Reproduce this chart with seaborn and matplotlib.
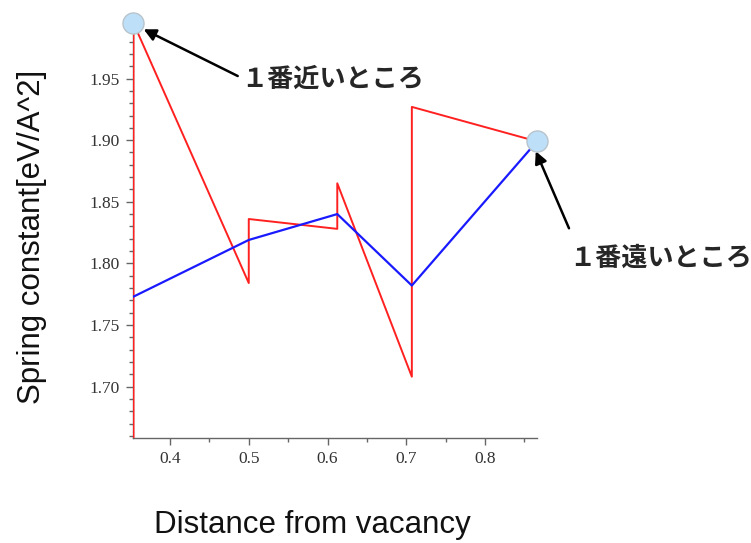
import numpy as np
import pandas as pd
import matplotlib
matplotlib.use("Agg")
import matplotlib.pyplot as plt
import seaborn as sns
from matplotlib.ticker import MultipleLocator

# Distances from the vacancy (nearest to farthest neighbour shells)
distance = [0.3536, 0.5, 0.6124, 0.7071, 0.866]

# Averaged spring constant for each shell
avg_spring = [1.773, 1.819, 1.840, 1.782, 1.899]

# Per-bond spring constants, drawn as a stepped path (two values at each shell)
path_distance = [0.3536, 0.3536, 0.5, 0.5, 0.6124, 0.6124, 0.7071, 0.7071, 0.866]
path_spring = [1.60, 1.995, 1.784, 1.836, 1.828, 1.865, 1.708, 1.927, 1.899]

# Highlighted extremes
mark_distance = [0.3536, 0.866]
mark_spring = [1.995, 1.899]

label_near = "１番近いところ"
label_far = "１番遠いところ"

x_ticks = [0.4, 0.5, 0.6, 0.7, 0.8]
y_ticks = [1.70, 1.75, 1.80, 1.85, 1.90, 1.95]

sns.set_theme(style="white")
plt.rcParams["font.family"] = ["Noto Sans CJK JP", "DejaVu Sans"]

fig = plt.figure(figsize=(7.51, 5.43), dpi=100)
ax = fig.add_axes([0.1767, 0.1928, 0.5383, 0.7669])

path_df = pd.DataFrame({"d": path_distance, "k": path_spring})
avg_df = pd.DataFrame({"d": distance, "k": avg_spring})

sns.lineplot(data=path_df, x="d", y="k", sort=False, estimator=None,
             color="#ff2020", linewidth=1.4, ax=ax, zorder=3)
sns.lineplot(data=avg_df, x="d", y="k", sort=False, estimator=None,
             color="#1a1aff", linewidth=1.6, ax=ax, zorder=3)

ax.scatter(mark_distance, mark_spring, s=230, color="#bde0f8",
           edgecolor="#b8c4cc", linewidth=1.0, zorder=5, clip_on=False)

ax.set_xlim(0.3526, 0.866)
ax.set_ylim(1.658, 1.996)

ax.xaxis.set_major_locator(MultipleLocator(0.1))
ax.xaxis.set_minor_locator(MultipleLocator(0.05))
ax.yaxis.set_major_locator(MultipleLocator(0.05))
ax.yaxis.set_minor_locator(MultipleLocator(0.01))

for s in ["top", "right"]:
    ax.spines[s].set_visible(False)
for s in ["left", "bottom"]:
    ax.spines[s].set_color("#666666")
    ax.spines[s].set_linewidth(1.0)

ax.tick_params(which="major", direction="out", length=5, width=1,
               color="#666666", left=True, bottom=True, pad=4)
ax.tick_params(which="minor", direction="out", length=3, width=1,
               color="#666666", left=True, bottom=True)
ax.set_xticks(x_ticks)
ax.set_xticklabels([f"{v:.1f}" for v in x_ticks], family="Liberation Serif",
                   color="#333333", fontsize=12.5)
ax.set_yticks(y_ticks)
ax.set_yticklabels([f"{v:.2f}" for v in y_ticks], family="Liberation Serif",
                   color="#333333", fontsize=12.5)

ax.set_xlabel("")
ax.set_ylabel("")
fig.text(312 / 751, 1 - 525 / 543, "Distance from vacancy", ha="center", va="center",
         fontsize=22.5, family="Liberation Sans", color="#111111")
fig.text(32 / 751, 1 - 237 / 543, "Spring constant[eV/A^2]", ha="center", va="center",
         rotation=90, fontsize=22.5, family="Liberation Sans", color="#111111")

arrow = dict(arrowstyle="-|>", color="black", lw=1.8, mutation_scale=18,
             shrinkA=0, shrinkB=0)
ax.annotate(label_near, xy=(0.3665, 1.990), xycoords="data",
            xytext=(241 / 751, 1 - 79 / 543), textcoords="figure fraction",
            ha="left", va="center", fontsize=18.8, fontweight="bold",
            arrowprops=dict(arrow, relpos=(0.0, 0.55)), annotation_clip=False)
ax.annotate(label_far, xy=(0.8645, 1.891), xycoords="data",
            xytext=(569 / 751, 1 - 258 / 543), textcoords="figure fraction",
            ha="left", va="center", fontsize=18.8, fontweight="bold",
            arrowprops=dict(arrow, relpos=(0.0, 1.6)), annotation_clip=False)

fig.savefig("out.png", dpi=100)
